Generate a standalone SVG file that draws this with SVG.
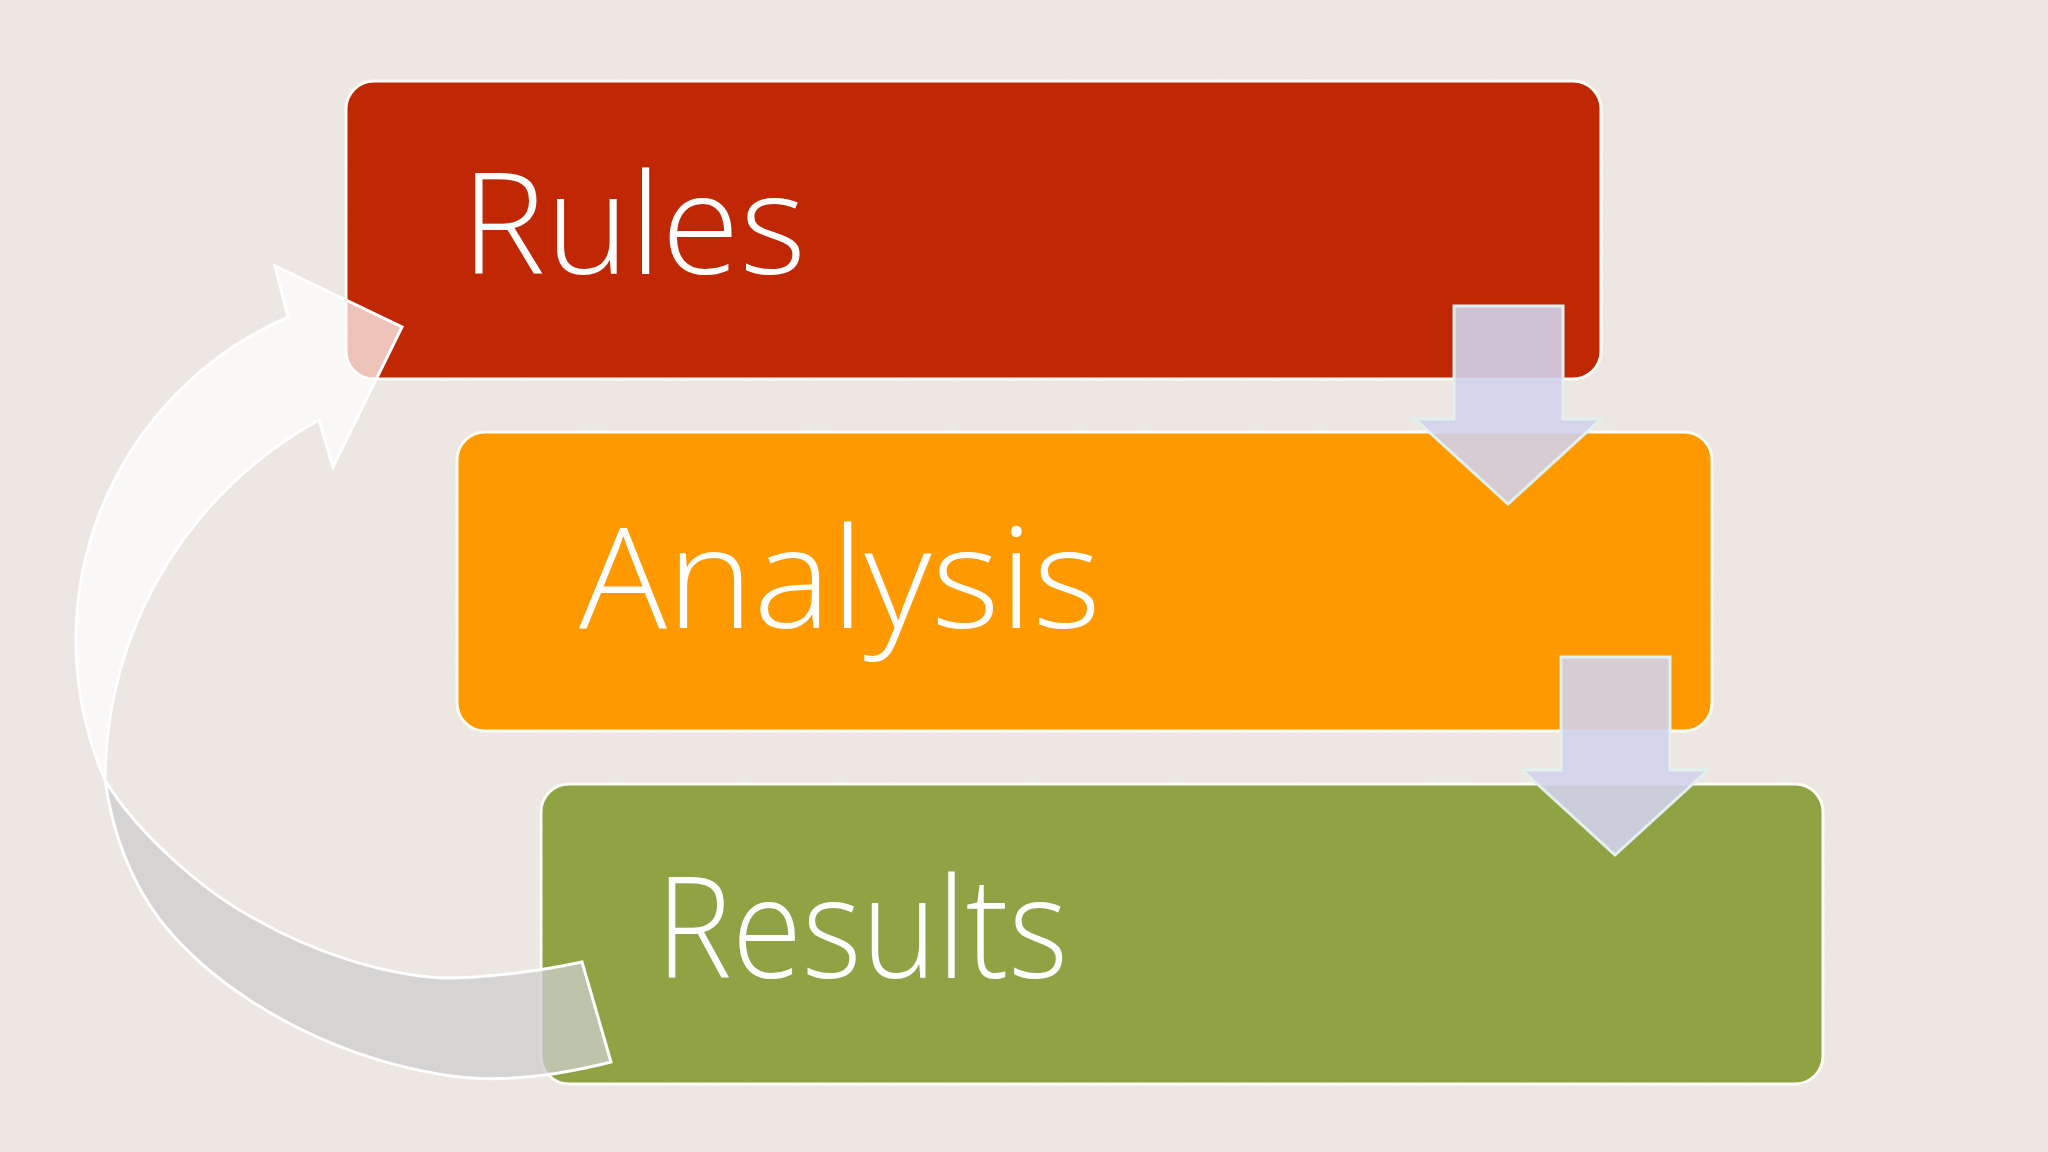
<svg xmlns="http://www.w3.org/2000/svg" width="2048" height="1152" viewBox="0 0 2048 1152">
  <defs>
    <filter id="noise" x="0" y="0" width="100%" height="100%">
      <feTurbulence type="fractalNoise" baseFrequency="0.9" numOctaves="2" seed="3" result="t"/>
      <feColorMatrix in="t" type="matrix" values="0 0 0 0 0.55  0 0 0 0 0.5  0 0 0 0 0.45  0 0 0 -1.6 1.1"/>
    </filter>
    <style>
      .box { stroke: #FDFCF4; stroke-width: 3; }
      .label { font-family: "Open Sans", "Liberation Sans", sans-serif; font-weight: 350; font-size: 140px; fill: #FFFFFF; }
      .down { fill: rgb(210,210,235); fill-opacity: 0.9; stroke: #E2F0EE; stroke-width: 3; stroke-linejoin: miter; }
      .front { fill: #FFFFFF; fill-opacity: 0.72; stroke: #FFFFFF; stroke-width: 3; stroke-linejoin: miter; }
      .back { fill: rgb(205,205,205); fill-opacity: 0.75; stroke: #FFFFFF; stroke-width: 3; stroke-linejoin: miter; }
    </style>
  </defs>

  <rect x="0" y="0" width="2048" height="1152" fill="#EEE9E4"/>
  <rect x="0" y="0" width="2048" height="1152" filter="url(#noise)" opacity="0.12"/>

  <g id="node-rules">
    <rect class="box" x="346" y="81" width="1255" height="298" rx="28" fill="#C02805"/>
    <text class="label" x="461" y="274" textLength="345" lengthAdjust="spacingAndGlyphs">Rules</text>
  </g>

  <g id="node-analysis">
    <rect class="box" x="457" y="432" width="1255" height="299" rx="28" fill="#FE9900"/>
    <text class="label" x="579" y="628" textLength="522" lengthAdjust="spacingAndGlyphs">Analysis</text>
  </g>

  <g id="node-results">
    <rect class="box" x="541" y="784" width="1282" height="300" rx="28" fill="#8FA345"/>
    <text class="label" x="656" y="978" textLength="412" lengthAdjust="spacingAndGlyphs">Results</text>
  </g>

  <g id="connectors">
    <path id="arrow-rules-analysis" class="down" d="M1454,306 L1563,306 L1563,419 L1601,419 L1508,504 L1415,419 L1454,419 Z"/>
    <path id="arrow-analysis-results" class="down" d="M1561,657 L1670,657 L1670,770 L1708,770 L1615,855 L1522,770 L1561,770 Z"/>
    <g id="arrow-results-rules">
      <path class="back" d="M105,780 C112,830 130,880 160,920 C215,990 320,1055 444,1075 C500,1084 560,1075 611,1062 L582,962 C545,970 490,978 444,978 C380,975 310,950 257,920 C200,890 135,830 105,780 Z"/>
      <path class="front" d="M105,780 A352,352 0 0 1 288,317 L275,266 L402,327 L333,467 L319,420 A412,412 0 0 0 105,780 Z"/>
    </g>
  </g>
</svg>
